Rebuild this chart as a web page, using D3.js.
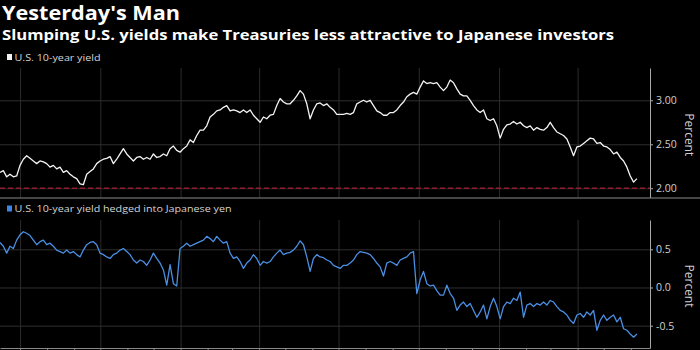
<!DOCTYPE html>
<html>
<head>
<meta charset="utf-8">
<script src="https://cdn.jsdelivr.net/npm/d3@7"></script>
<style>
  body { margin: 0; background: #000; }
  svg { display: block; }
  text { font-family: "Open Sans", "DejaVu Sans", sans-serif; }
</style>
</head>
<body>
<svg id="chart" width="700" height="350"></svg>
<script>
// Readings are evenly spaced between these two dates
const firstDate = "2017-06-08";
const lastDate = "2019-06-08";
// Visible time window of both panels
const axisStart = "2017-06-08";
const axisEnd = "2019-06-23";

// U.S. 10-year Treasury yield, percent
const usYield = [
  2.18,2.20,2.13,2.16,2.13,2.14,2.26,2.33,2.37,2.34,
  2.31,2.28,2.31,2.30,2.28,2.24,2.26,2.22,2.24,2.18,
  2.20,2.16,2.13,2.11,2.05,2.04,2.16,2.19,2.22,2.28,
  2.31,2.33,2.34,2.36,2.28,2.33,2.39,2.45,2.39,2.35,
  2.31,2.35,2.36,2.33,2.35,2.33,2.39,2.35,2.36,2.39,
  2.37,2.45,2.48,2.43,2.41,2.45,2.48,2.55,2.52,2.60,
  2.66,2.66,2.71,2.81,2.84,2.88,2.89,2.92,2.94,2.88,
  2.89,2.88,2.86,2.89,2.86,2.89,2.83,2.79,2.75,2.81,
  2.79,2.83,2.84,2.94,3.02,2.98,2.96,2.96,3.00,3.05,
  3.11,3.07,2.96,2.79,2.89,2.96,2.97,2.94,2.96,2.92,
  2.89,2.84,2.84,2.84,2.85,
  2.84,2.86,2.96,2.98,3.00,2.98,3.00,2.94,2.88,2.86,
  2.83,2.83,2.86,2.86,2.89,2.94,2.98,3.04,3.07,3.09,
  3.07,3.15,3.22,3.19,3.20,3.19,3.20,3.15,3.11,3.15,
  3.23,3.20,3.13,3.07,3.05,3.05,3.00,2.94,2.89,2.86,
  2.89,2.79,2.77,2.79,2.71,2.57,2.67,2.72,2.73,2.76,
  2.73,2.75,2.71,2.69,2.71,2.66,2.69,2.67,2.66,2.69,
  2.75,2.69,2.64,2.62,2.60,2.56,2.47,2.37,2.47,2.48,
  2.51,2.54,2.57,2.56,2.51,2.52,2.48,2.47,2.44,2.39,
  2.41,2.35,2.31,2.24,2.14,2.07,2.11
];

// U.S. 10-year yield hedged into Japanese yen, percent
const hedgedYield = [
  0.59,0.54,0.45,0.54,0.51,0.62,0.69,0.73,0.71,0.68,
  0.62,0.56,0.60,0.62,0.56,0.58,0.54,0.49,0.47,0.45,
  0.49,0.45,0.47,0.43,0.40,0.49,0.56,0.59,0.60,0.56,
  0.45,0.43,0.40,0.38,0.43,0.45,0.49,0.51,0.47,0.43,
  0.36,0.32,0.36,0.34,0.29,0.36,0.45,0.38,0.32,0.23,
  0.03,0.30,0.05,0.02,0.51,0.54,0.58,0.54,0.56,0.58,
  0.60,0.62,0.67,0.64,0.60,0.67,0.62,0.58,0.60,0.45,
  0.38,0.40,0.34,0.25,0.32,0.36,0.43,0.38,0.29,0.34,
  0.32,0.34,0.40,0.45,0.49,0.43,0.45,0.46,0.49,0.54,
  0.61,0.56,0.40,0.21,0.38,0.43,0.40,0.39,0.36,0.34,
  0.29,0.27,0.25,0.29,0.29,
  0.32,0.36,0.43,0.47,0.46,0.45,0.43,0.38,0.32,0.27,
  0.15,0.32,0.34,0.32,0.29,0.36,0.38,0.40,0.45,0.47,
  -0.08,0.10,0.21,0.05,0.02,0.03,-0.04,-0.10,-0.10,0.03,
  -0.08,-0.14,-0.30,-0.23,-0.19,-0.25,-0.21,-0.30,-0.39,-0.32,
  -0.23,-0.41,-0.25,-0.14,-0.25,-0.41,-0.25,-0.19,-0.21,-0.14,
  -0.17,-0.06,-0.39,-0.23,-0.21,-0.25,-0.21,-0.23,-0.19,-0.23,
  -0.17,-0.19,-0.25,-0.30,-0.32,-0.36,-0.43,-0.47,-0.36,-0.34,
  -0.39,-0.32,-0.36,-0.30,-0.56,-0.43,-0.36,-0.43,-0.39,-0.36,
  -0.45,-0.39,-0.54,-0.56,-0.61,-0.65,-0.61
];

const yieldTicks = [2.0, 2.5, 3.0];
const hedgedTicks = [-0.5, 0.0, 0.5];
const yieldFloor = 2.0;

const titleText = "Yesterday's Man";
const subtitleText = "Slumping U.S. yields make Treasuries less attractive to Japanese investors";
const yieldLabel = "U.S. 10-year yield";
const hedgedLabel = "U.S. 10-year yield hedged into Japanese yen";
const unitLabel = "Percent";

const parse = d3.timeParse("%Y-%m-%d");
const t0 = parse(firstDate), t1 = parse(lastDate);
const dates = usYield.map((_, i) => new Date(+t0 + i * (t1 - t0) / (usYield.length - 1)));

const svg = d3.select("#chart");
const W = 700, plotRight = 650;

const x = d3.scaleTime().domain([parse(axisStart), parse(axisEnd)]).range([0, plotRight]);

// Title block
svg.append("text").attr("x", 2).attr("y", 20)
  .attr("fill", "#fff").attr("font-size", 19.5).attr("font-weight", 700)
  .attr("textLength", 178).attr("lengthAdjust", "spacingAndGlyphs")
  .text(titleText);
svg.append("text").attr("x", 2).attr("y", 39.5)
  .attr("fill", "#fff").attr("font-size", 13.5).attr("font-weight", 700)
  .attr("textLength", 612).attr("lengthAdjust", "spacingAndGlyphs")
  .text(subtitleText);

function legend(yBase, color, label, len) {
  svg.append("rect").attr("x", 7).attr("y", yBase - 6.5).attr("width", 5).attr("height", 6)
    .attr("fill", color);
  svg.append("text").attr("x", 14.5).attr("y", yBase)
    .attr("fill", "#d4d4d4").attr("font-size", 9.5)
    .attr("textLength", len).attr("lengthAdjust", "spacingAndGlyphs")
    .text(label);
}

function panel(opts) {
  const { top, bottom, domain, ticks, fmt, values, color } = opts;
  const y = d3.scaleLinear().domain(domain).range([bottom, top]);
  const g = svg.append("g");

  // vertical quarter gridlines
  g.append("g").attr("transform", `translate(0,${bottom})`)
    .call(d3.axisBottom(x).ticks(d3.timeMonth.every(3)).tickSize(-(bottom - top)).tickFormat(""))
    .call(a => a.select(".domain").remove())
    .call(a => a.selectAll("line").attr("stroke", "#2b2b2b"));

  // horizontal gridlines
  g.append("g").attr("transform", `translate(${plotRight},0)`)
    .call(d3.axisRight(y).tickValues(ticks).tickSize(-plotRight).tickFormat(""))
    .call(a => a.select(".domain").remove())
    .call(a => a.selectAll("line").attr("stroke", "#2e2e2e"));

  // right value axis
  g.append("g").attr("transform", `translate(${plotRight},0)`)
    .call(d3.axisRight(y).tickValues(ticks).tickSize(3).tickSizeOuter(0).tickPadding(3)
      .tickFormat(v => fmt(v).replace("\u2212", "-")))
    .call(a => a.select(".domain").attr("stroke", "#a8a8a8"))
    .call(a => a.selectAll("line").attr("stroke", "#a8a8a8"))
    .call(a => a.selectAll("text").attr("fill", "#cfcfcf").attr("font-size", 10.5)
      .attr("font-family", "'Open Sans', sans-serif"));

  svg.append("text")
    .attr("transform", `translate(685,${(top + bottom) / 2 + 2}) rotate(90)`)
    .attr("text-anchor", "middle").attr("fill", "#cfcfcf").attr("font-size", 12)
    .text(unitLabel);

  if (opts.floor !== undefined) {
    g.append("line").attr("x1", 0).attr("x2", plotRight)
      .attr("y1", y(opts.floor)).attr("y2", y(opts.floor))
      .attr("stroke", "#8e1f30").attr("stroke-width", 1.6).attr("stroke-dasharray", "5,3");
  }

  const line = d3.line().x((d, i) => x(dates[i])).y(d => y(d));
  g.append("path").datum(values).attr("d", line)
    .attr("fill", "none").attr("stroke", color).attr("stroke-width", 1.3)
    .attr("stroke-linejoin", "round");
  return y;
}

panel({ top: 68, bottom: 197.5, domain: [1.895, 3.367], ticks: yieldTicks,
  fmt: d3.format(".2f"), values: usYield, color: "#f4f4f4", floor: yieldFloor });
panel({ top: 220, bottom: 348, domain: [-0.792, 0.8835], ticks: hedgedTicks,
  fmt: d3.format(".1f"), values: hedgedYield, color: "#4a8fe3" });

// panel separator
svg.append("line").attr("x1", 0).attr("x2", W).attr("y1", 198).attr("y2", 198)
  .attr("stroke", "#8a8a8a").attr("stroke-width", 1.2);

// bottom time axis with monthly ticks
svg.append("g").attr("transform", "translate(0,348)")
  .call(d3.axisBottom(x).ticks(d3.timeMonth.every(1)).tickSize(4).tickSizeOuter(0).tickFormat(""))
  .call(a => a.select(".domain").attr("stroke", "#8a8a8a"))
  .call(a => a.selectAll("line").attr("stroke", "#8a8a8a"));

legend(60.5, "#f2f2f2", yieldLabel, 86);
legend(212, "#3d86e6", hedgedLabel, 217);
</script>
</body>
</html>
